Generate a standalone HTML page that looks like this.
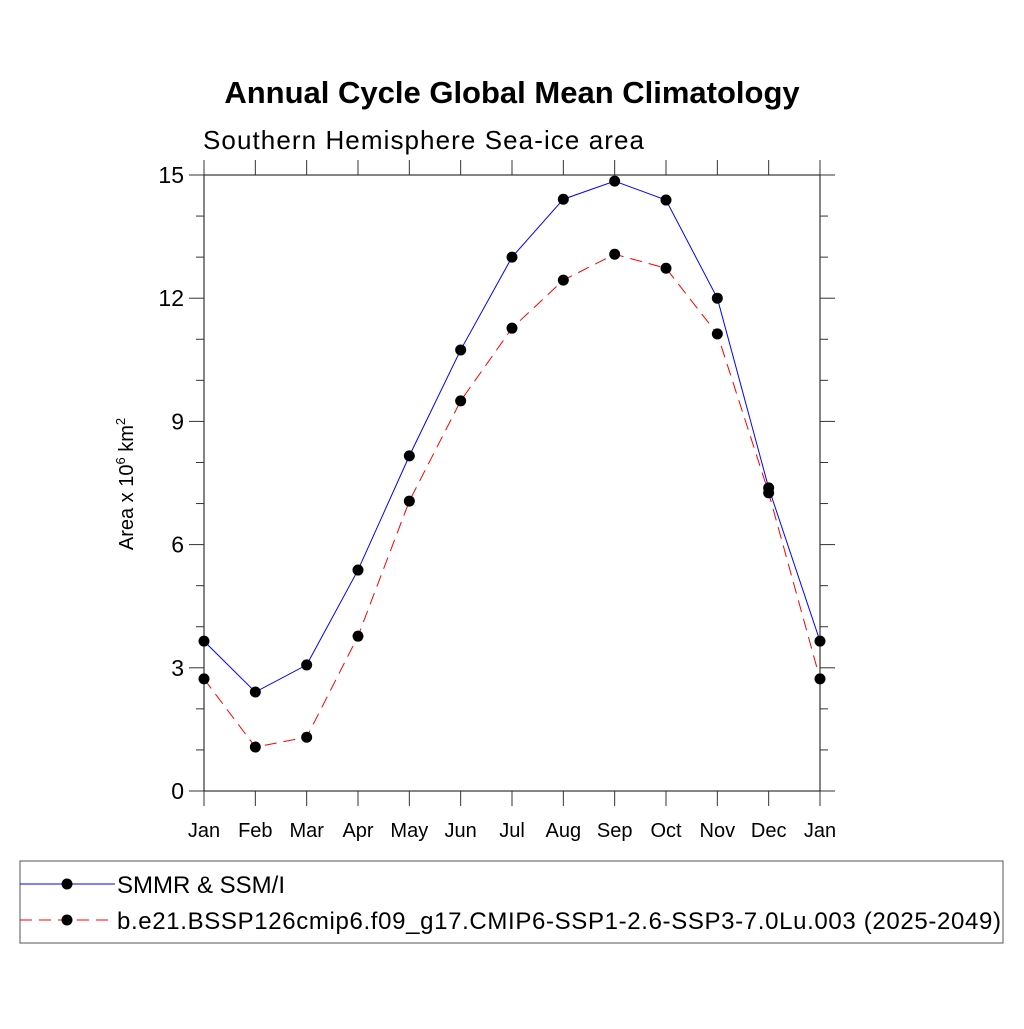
<!DOCTYPE html>
<html><head><meta charset="utf-8"><style>
body{margin:0;background:#fff;width:1024px;height:1024px;overflow:hidden}
svg{font-family:"Liberation Sans",sans-serif}
</style></head><body>
<svg id="c" width="1024" height="1024">
<text x="512" y="103" text-anchor="middle" font-size="31" font-weight="bold">Annual Cycle Global Mean Climatology</text>
<text x="203" y="149" font-size="26" textLength="441">Southern Hemisphere Sea-ice area</text>
<text transform="translate(133,484) rotate(-90)" text-anchor="middle" font-size="20">Area x 10<tspan font-size="13" dy="-8">6</tspan><tspan dy="8"> km</tspan><tspan font-size="13" dy="-8">2</tspan></text>
<g id="axes"></g>
<g id="series"></g>
<rect x="20" y="861" width="983" height="82" fill="none" stroke="#555" stroke-width="1"/>
<line x1="20" y1="884" x2="115" y2="884" stroke="#00f" stroke-width="1"/>
<circle cx="67" cy="884" r="5.5" fill="#000"/>
<text x="117" y="893" font-size="24">SMMR &amp; SSM/I</text>
<line x1="20" y1="920" x2="115" y2="920" stroke="#f00" stroke-width="1" stroke-dasharray="12,7"/>
<circle cx="67" cy="920" r="5.5" fill="#000"/>
<text x="117" y="929" font-size="24" textLength="884">b.e21.BSSP126cmip6.f09_g17.CMIP6-SSP1-2.6-SSP3-7.0Lu.003 (2025-2049)</text>
</svg>
<script>
const months=["Jan","Feb","Mar","Apr","May","Jun","Jul","Aug","Sep","Oct","Nov","Dec","Jan"];
const obsValues=[3.65,2.41,3.07,5.38,8.16,10.74,13.0,14.41,14.85,14.39,12.0,7.38,3.65];
const modelValues=[2.73,1.07,1.31,3.77,7.06,9.5,11.27,12.44,13.07,12.73,11.13,7.26,2.73];
const yTicks=[0,3,6,9,12,15];
const NS="http://www.w3.org/2000/svg";
const L=204,R=820,T=175,B=791;
const xs=i=>L+(R-L)*i/(months.length-1);
const ys=v=>B-(B-T)*v/15;
function mk(tag,attrs,parent){const e=document.createElementNS(NS,tag);for(const k in attrs)e.setAttribute(k,attrs[k]);parent.appendChild(e);return e;}
const ax=document.getElementById('axes');
const frame=mk('rect',{x:L,y:T,width:R-L,height:B-T,fill:'none',stroke:'#333','stroke-width':1.2},ax);


for(let v=0;v<=15;v++){
  const major=v%3===0,len=major?15:8,y=ys(v);
  const t1=mk('line',{x1:L-len,y1:y,x2:L,y2:y,stroke:'#333','stroke-width':1},ax);
  
  
  const t2=mk('line',{x1:R,y1:y,x2:R+len,y2:y,stroke:'#333','stroke-width':1},ax);
  
  
}
yTicks.forEach(v=>{
  const t=mk('text',{x:L-20,y:ys(v)+8,'text-anchor':'end','font-size':23},ax);t.textContent=v;
  
  
});
months.forEach((m,i)=>{
  const x=xs(i);
  const a=mk('line',{x1:x,y1:B,x2:x,y2:B+15,stroke:'#333','stroke-width':1},ax);
  
  
  const b=mk('line',{x1:x,y1:T-15,x2:x,y2:T,stroke:'#333','stroke-width':1},ax);
  
  
  const t=mk('text',{x:x,y:837,'text-anchor':'middle','font-size':20},ax);t.textContent=m;
  
  
});
const sg=document.getElementById('series');
function series(vals,color,dash,name){
  const p=mk('polyline',{points:vals.map((v,i)=>xs(i)+','+ys(v)).join(' '),fill:'none',stroke:color,'stroke-width':1,'stroke-dasharray':dash},sg);
  
  
  vals.forEach((v,i)=>{
    const c=mk('circle',{cx:xs(i),cy:ys(v),r:5.5,fill:'#000'},sg);
    
    
  });
}
series(obsValues,'#00f','none','obs');
series(modelValues,'#f00','12,7','model');
</script>
</body></html>
